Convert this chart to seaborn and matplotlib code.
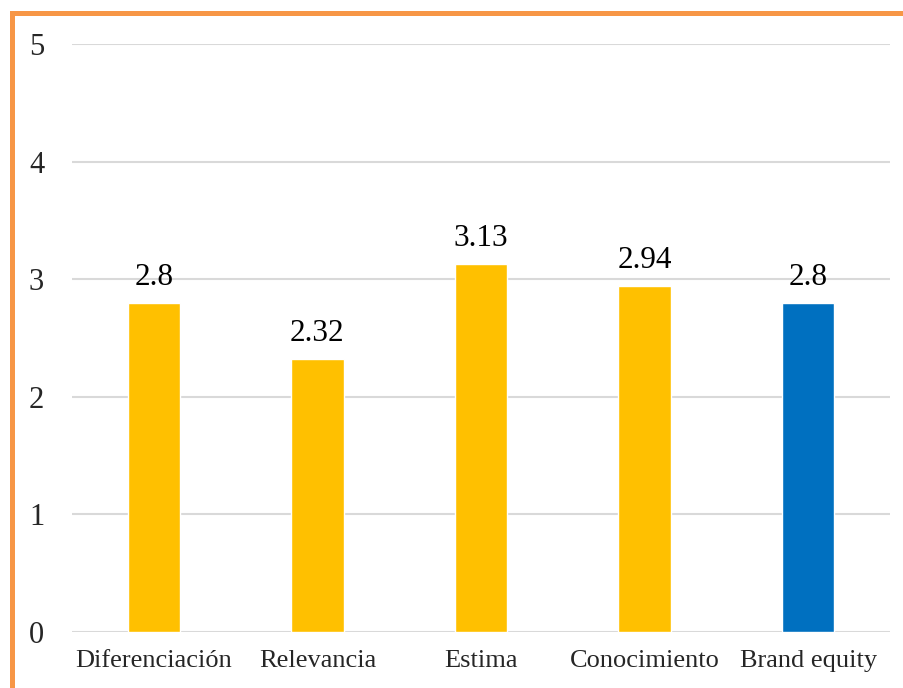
import matplotlib
matplotlib.use("Agg")
import matplotlib.pyplot as plt
import seaborn as sns
import pandas as pd
from matplotlib.patches import Rectangle

categories = ["Diferenciación", "Relevancia", "Estima", "Conocimiento", "Brand equity"]
values = [2.8, 2.32, 3.13, 2.94, 2.8]
bar_colors = ["#FFC000", "#FFC000", "#FFC000", "#FFC000", "#0070C0"]
y_ticks = [0, 1, 2, 3, 4, 5]

sns.set_theme(style="white")
plt.rcParams["font.family"] = ["Liberation Serif", "DejaVu Serif"]

df = pd.DataFrame({"cat": categories, "val": values})

fig = plt.figure(figsize=(9.04, 6.88), dpi=100)
ax = fig.add_axes([72 / 904, 1 - 632 / 688, 818 / 904, 588 / 688])

sns.barplot(data=df, x="cat", y="val", hue="cat", palette=bar_colors,
            width=0.32, legend=False, ax=ax, saturation=1, zorder=3)

ax.set_ylim(0, 5)
ax.set_xlim(-0.5, len(categories) - 0.5)
ax.set_yticks(y_ticks)
ax.set_yticklabels([str(t) for t in y_ticks], fontsize=22)
ax.tick_params(axis="y", length=0, pad=20)
ax.tick_params(axis="x", length=0, pad=13, labelsize=19)
ax.set_xlabel("")
ax.set_ylabel("")
ax.yaxis.grid(True, color="#d9d9d9", linewidth=1.5, zorder=0)
ax.set_axisbelow(True)
for s in ax.spines.values():
    s.set_visible(False)

for i, v in enumerate(values):
    ax.annotate(f"{v:g}", (i, v), xytext=(0, 8), textcoords="offset points",
                ha="center", va="bottom", fontsize=22.5, color="black")

# orange frame around the chart area
fig.patches.append(Rectangle((12.5 / 904, -0.1), 1.2, 1 - 13.5 / 688 + 0.1,
                             transform=fig.transFigure, fill=False,
                             edgecolor="#F79646", linewidth=3.6))

fig.savefig("out.png", dpi=100)
